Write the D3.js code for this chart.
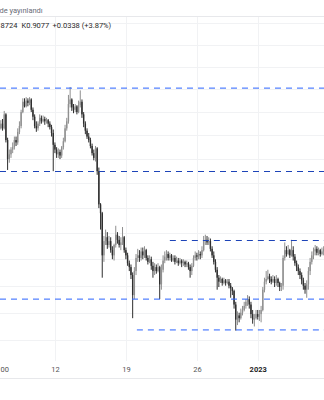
<!DOCTYPE html>
<html>
<head>
<meta charset="utf-8">
<script src="https://cdn.jsdelivr.net/npm/d3@7"></script>
<style>
    body { margin: 0; background: #fff; }
    svg { display: block; font-family: Roboto, "Liberation Sans", sans-serif; }
</style>
</head>
<body>
<svg id="chart" width="324" height="400"></svg>
<script>
// 4h candles, first bar opens 6 Dec 2022 16:00
const barStart = new Date(2022, 11, 6, 16);
const barHours = 4;

const opens = [
    1.006,1.010,1.006,1.018,0.996,0.980,0.984,0.988,0.990,0.996,0.994,1.003,
    1.008,1.020,1.029,1.025,1.030,1.028,1.031,1.022,1.016,1.008,1.006,1.010,
    1.015,1.012,1.014,1.012,1.013,1.010,1.007,1.002,0.992,0.988,0.984,0.986,
    0.983,0.990,0.995,1.006,1.012,1.027,1.031,1.024,1.022,1.025,1.020,1.026,
    1.029,1.018,1.010,1.004,0.999,0.996,0.991,0.985,0.981,0.989,0.970,0.943,
    0.936,0.903,0.914,0.917,0.911,0.914,0.907,0.903,0.911,0.919,0.915,0.911,
    0.913,0.917,0.907,0.903,0.897,0.894,0.888,0.873,0.891,0.901,0.903,0.901,
    0.906,0.903,0.907,0.901,0.898,0.900,0.895,0.891,0.894,0.891,0.894,0.881,
    0.892,0.899,0.902,0.904,0.901,0.903,0.899,0.901,0.898,0.899,0.897,0.899,
    0.897,0.898,0.896,0.897,0.894,0.891,0.895,0.901,0.903,0.902,0.904,0.903,
    0.907,0.914,0.915,0.913,0.914,0.908,0.903,0.898,0.892,0.886,0.883,0.885,
    0.882,0.884,0.882,0.883,0.880,0.878,0.876,0.866,0.855,0.858,0.856,0.860,
    0.862,0.865,0.868,0.870,0.866,0.859,0.855,0.856,0.859,0.857,0.859,0.862,
    0.877,0.883,0.885,0.887,0.885,0.883,0.885,0.882,0.885,0.882,0.879,0.880,
    0.901,0.907,0.904,0.907,0.903,0.907,0.902,0.897,0.894,0.891,0.888,0.884,
    0.880,0.877,0.881,0.891,0.898,0.903,0.906,0.908,0.905,0.907,0.904,0.906
];
const highs = [
    1.013,1.014,1.021,1.019,0.998,0.988,0.990,0.994,0.999,0.999,1.006,1.012,
    1.022,1.032,1.032,1.033,1.032,1.033,1.032,1.024,1.018,1.012,1.012,1.018,
    1.017,1.017,1.016,1.015,1.014,1.012,1.009,1.005,0.994,0.990,0.989,0.988,
    0.991,0.998,1.009,1.015,1.035,1.042,1.032,1.027,1.027,1.026,1.030,1.039,
    1.031,1.020,1.012,1.006,1.002,0.998,0.993,0.988,0.991,0.990,0.973,0.944,
    0.937,0.918,0.923,0.921,0.918,0.917,0.910,0.912,0.926,0.921,0.918,0.917,
    0.925,0.918,0.909,0.905,0.899,0.896,0.890,0.894,0.904,0.908,0.907,0.909,
    0.909,0.910,0.908,0.903,0.903,0.902,0.898,0.897,0.896,0.897,0.895,0.896,
    0.903,0.906,0.907,0.906,0.905,0.904,0.903,0.903,0.902,0.901,0.901,0.900,
    0.900,0.899,0.899,0.898,0.896,0.897,0.903,0.906,0.905,0.907,0.906,0.910,
    0.918,0.919,0.918,0.917,0.916,0.910,0.906,0.900,0.894,0.888,0.887,0.886,
    0.886,0.885,0.885,0.885,0.882,0.879,0.877,0.868,0.861,0.860,0.863,0.865,
    0.868,0.870,0.873,0.872,0.868,0.862,0.859,0.862,0.862,0.862,0.865,0.879,
    0.886,0.891,0.892,0.889,0.887,0.888,0.887,0.888,0.886,0.883,0.882,0.903,
    0.913,0.910,0.911,0.908,0.915,0.910,0.904,0.899,0.896,0.893,0.890,0.886,
    0.882,0.884,0.894,0.901,0.906,0.909,0.911,0.910,0.909,0.908,0.909,0.910
];
const lows = [
    1.005,1.004,1.005,0.994,0.971,0.977,0.981,0.985,0.988,0.991,0.992,1.001,
    1.006,1.019,1.024,1.024,1.025,1.026,1.020,1.013,1.006,1.003,1.004,1.008,
    1.010,1.011,1.009,1.010,1.007,1.005,0.999,0.970,0.985,0.981,0.981,0.980,
    0.981,0.988,0.994,1.004,1.010,1.024,1.021,1.019,1.020,1.018,1.019,1.024,
    1.015,1.007,1.001,0.997,0.994,0.989,0.983,0.979,0.978,0.967,0.940,0.923,
    0.886,0.898,0.911,0.908,0.909,0.905,0.900,0.899,0.909,0.912,0.909,0.907,
    0.911,0.905,0.900,0.895,0.891,0.885,0.856,0.870,0.888,0.898,0.898,0.899,
    0.900,0.901,0.899,0.896,0.897,0.892,0.886,0.888,0.889,0.890,0.870,0.877,
    0.890,0.897,0.899,0.899,0.899,0.898,0.898,0.896,0.897,0.895,0.896,0.894,
    0.895,0.894,0.894,0.892,0.886,0.888,0.894,0.899,0.899,0.900,0.900,0.901,
    0.906,0.911,0.911,0.911,0.906,0.901,0.896,0.890,0.877,0.879,0.882,0.880,
    0.881,0.880,0.881,0.878,0.871,0.873,0.863,0.847,0.851,0.853,0.855,0.858,
    0.861,0.863,0.865,0.863,0.856,0.852,0.850,0.855,0.855,0.854,0.853,0.861,
    0.875,0.881,0.884,0.882,0.881,0.882,0.879,0.880,0.879,0.876,0.876,0.877,
    0.899,0.902,0.903,0.901,0.902,0.899,0.895,0.891,0.888,0.885,0.881,0.877,
    0.874,0.871,0.877,0.888,0.896,0.900,0.903,0.903,0.903,0.902,0.903,0.903
];
const closes = [
    1.010,1.006,1.018,0.996,0.980,0.984,0.988,0.990,0.996,0.994,1.003,1.008,
    1.020,1.029,1.025,1.030,1.028,1.031,1.022,1.016,1.008,1.006,1.010,1.015,
    1.012,1.014,1.012,1.013,1.010,1.007,1.002,0.992,0.988,0.984,0.986,0.983,
    0.990,0.995,1.006,1.012,1.027,1.031,1.024,1.022,1.025,1.020,1.026,1.029,
    1.018,1.010,1.004,0.999,0.996,0.991,0.985,0.981,0.989,0.970,0.943,0.936,
    0.903,0.914,0.917,0.911,0.914,0.907,0.903,0.911,0.919,0.915,0.911,0.913,
    0.917,0.907,0.903,0.897,0.894,0.888,0.873,0.891,0.901,0.903,0.901,0.906,
    0.903,0.907,0.901,0.898,0.900,0.895,0.891,0.894,0.891,0.894,0.881,0.892,
    0.899,0.902,0.904,0.901,0.903,0.899,0.901,0.898,0.899,0.897,0.899,0.897,
    0.898,0.896,0.897,0.894,0.891,0.895,0.901,0.903,0.902,0.904,0.903,0.907,
    0.914,0.915,0.913,0.914,0.908,0.903,0.898,0.892,0.886,0.883,0.885,0.882,
    0.884,0.882,0.883,0.880,0.878,0.876,0.866,0.855,0.858,0.856,0.860,0.862,
    0.865,0.868,0.870,0.866,0.859,0.855,0.856,0.859,0.857,0.859,0.862,0.877,
    0.883,0.885,0.887,0.885,0.883,0.885,0.882,0.885,0.882,0.879,0.880,0.901,
    0.907,0.904,0.907,0.903,0.907,0.902,0.897,0.894,0.891,0.888,0.884,0.880,
    0.877,0.881,0.891,0.898,0.903,0.906,0.908,0.905,0.907,0.904,0.906,0.9077
];

// horizontal drawn levels (null start = from the left edge)
const levelPrices = [1.041, 0.970, 0.9145, 0.870, 0.8475];
const levelStarts = [null, null, new Date(2022, 11, 23, 8), null, new Date(2022, 11, 20, 2)];
const levelColors = ["#2962ff", "#1d44b8", "#1d44b8", "#2962ff", "#2962ff"];

const gridPrices = [0.84, 0.86, 0.88, 0.90, 0.92, 0.94, 0.96, 0.98, 1.00, 1.02, 1.04, 1.06, 1.08, 1.10];
const tickDates = [new Date(2022, 11, 7), new Date(2022, 11, 12), new Date(2022, 11, 19),
    new Date(2022, 11, 26), new Date(2023, 0, 1)];
const tickLabels = ["00", "12", "19", "26", "2023"];

const width = 324, plotTop = 17, plotBottom = 361;

const svg = d3.select("#chart");

const x = d3.scaleTime()
    .domain([new Date(2022, 11, 6, 14), new Date(2023, 0, 7, 12, 52)])
    .range([0, width]);
const y = d3.scaleLog()
    .domain([0.8254, 1.1059])
    .range([plotBottom, plotTop]);

svg.append("clipPath").attr("id", "plot-clip")
    .append("rect")
    .attr("x", 0).attr("y", plotTop)
    .attr("width", width).attr("height", plotBottom - plotTop);

// grid
const grid = svg.append("g").attr("stroke", "#f1f2f4").attr("stroke-width", 1);
grid.selectAll("line.h")
    .data(gridPrices)
    .join("line")
    .attr("class", "h")
    .attr("x1", 0).attr("x2", width)
    .attr("y1", d => Math.round(y(d)) + 0.5)
    .attr("y2", d => Math.round(y(d)) + 0.5);
// first label is a clipped one, no grid line visible for it
grid.selectAll("line.v")
    .data(tickDates.slice(1))
    .join("line")
    .attr("class", "v")
    .attr("x1", d => Math.round(x(d)) + 0.5)
    .attr("x2", d => Math.round(x(d)) + 0.5)
    .attr("y1", plotTop).attr("y2", plotBottom);

svg.append("line")
    .attr("x1", 0).attr("x2", width)
    .attr("y1", plotTop - 0.5).attr("y2", plotTop - 0.5)
    .attr("stroke", "#e7e8eb");
svg.append("line")
    .attr("x1", 0).attr("x2", width)
    .attr("y1", 378.5).attr("y2", 378.5)
    .attr("stroke", "#e7e8eb");

// candles
const bars = d3.range(closes.length).map(i => ({
    t: new Date(barStart.getTime() + i * barHours * 3600e3),
    o: opens[i], h: highs[i], l: lows[i], c: closes[i]
}));
const upColor = "#8f8f8f", downColor = "#2e2e2e";

const candles = svg.append("g")
    .attr("clip-path", "url(#plot-clip)")
    .selectAll("g")
    .data(bars)
    .join("g")
    .attr("fill", d => d.c >= d.o ? upColor : downColor)
    .attr("stroke", d => d.c >= d.o ? upColor : downColor);

candles.append("line")
    .attr("x1", d => x(d.t)).attr("x2", d => x(d.t))
    .attr("y1", d => y(d.h)).attr("y2", d => y(d.l))
    .attr("stroke-width", 1);
candles.append("rect")
    .attr("stroke", "none")
    .attr("x", d => x(d.t) - 0.7)
    .attr("width", 1.4)
    .attr("y", d => y(Math.max(d.o, d.c)))
    .attr("height", d => Math.max(1, Math.abs(y(d.o) - y(d.c))));

// dashed levels; the darker two sit on whole pixels
svg.append("g")
    .selectAll("line")
    .data(levelPrices)
    .join("line")
    .attr("x1", (d, i) => levelStarts[i] ? x(levelStarts[i]) : 0)
    .attr("x2", width)
    .attr("y1", (d, i) => levelColors[i] === "#1d44b8" ? Math.round(y(d)) + 0.5 : y(d))
    .attr("y2", (d, i) => levelColors[i] === "#1d44b8" ? Math.round(y(d)) + 0.5 : y(d))
    .attr("stroke", (d, i) => levelColors[i])
    .attr("stroke-width", 1)
    .attr("stroke-dasharray", "6,5");

// time axis
const xAxis = d3.axisBottom(x)
    .tickValues(tickDates)
    .tickSize(0)
    .tickFormat((d, i) => tickLabels[i]);
const axisG = svg.append("g")
    .attr("transform", "translate(0," + plotBottom + ")")
    .call(xAxis);
axisG.select(".domain").remove();
axisG.selectAll("text")
    .attr("y", 10.7)
    .attr("dy", 0)
    .attr("font-size", 7.5)
    .attr("font-family", "Roboto, 'Liberation Sans', sans-serif")
    .attr("fill", (d, i) => tickLabels[i] === "2023" ? "#1e1e1e" : "#555")
    .attr("font-weight", (d, i) => tickLabels[i] === "2023" ? 700 : 400);

// header texts
svg.append("text")
    .attr("x", 42.7).attr("y", 12.5)
    .attr("text-anchor", "end")
    .attr("font-size", 7.5)
    .attr("fill", "#6a6d78")
    .text("de yayınlandı");

const legend = svg.append("g")
    .attr("font-size", 7.5)
    .attr("fill", "#2a2a2a");
legend.append("text").attr("x", 0.5).attr("y", 28).text("8724");
legend.append("text").attr("x", 21.5).attr("y", 28).text("K0.9077");
legend.append("text").attr("x", 52.5).attr("y", 28).text("+0.0338 (+3.87%)");
</script>
</body>
</html>
